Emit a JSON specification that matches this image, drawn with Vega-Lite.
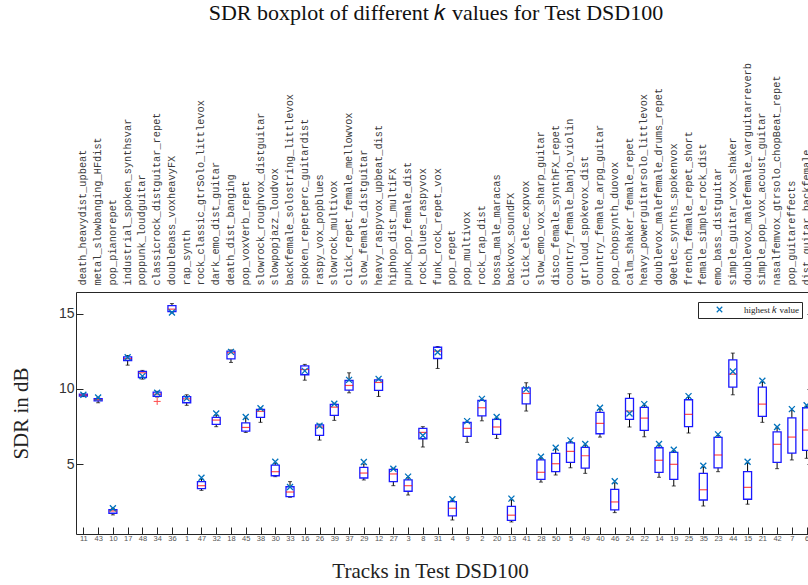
{
  "$schema": "https://vega.github.io/schema/vega-lite/v6.json",
  "width": 738,
  "height": 242,
  "autosize": {"type": "none"},
  "padding": {"left": 76, "top": 292, "right": 0, "bottom": 51},
  "background": "white",
  "title": {"text": "SDR boxplot of different 𝑘 values for Test DSD100", "font": "Liberation Serif", "fontSize": 22, "fontWeight": "normal", "color": "#111111", "anchor": "middle", "baseline": "alphabetic", "dx": -9, "offset": 21},
  "config": {"view": {"stroke": "#262626", "strokeWidth": 1}, "axis": {"grid": false}},
  "datasets": {
    "boxes": [
      {"track":"11","name":"death_heavydist_upbeat","lo":9.48,"q1":9.52,"med":9.58,"q3":9.64,"hi":9.68,"k":9.6},
      {"track":"43","name":"metal_slowbanging_HFdist","lo":9.07,"q1":9.2,"med":9.28,"q3":9.35,"hi":9.4,"k":9.42},
      {"track":"10","name":"pop_pianorepet","lo":1.62,"q1":1.73,"med":1.88,"q3":1.97,"hi":2.05,"k":2.06},
      {"track":"17","name":"industrial_spoken_synthsvar","lo":11.57,"q1":11.88,"med":12.01,"q3":12.12,"hi":12.21,"k":12.1},
      {"track":"48","name":"poppunk_loudguitar","lo":10.64,"q1":10.75,"med":11.06,"q3":11.15,"hi":11.22,"k":10.84},
      {"track":"34","name":"classicrock_distguitar_repet","lo":9.45,"q1":9.5,"med":9.64,"q3":9.78,"hi":9.83,"k":9.73,"out":9.16},
      {"track":"36","name":"doublebass_voxheavyFX","lo":15.05,"q1":15.12,"med":15.29,"q3":15.52,"hi":15.66,"k":15.07},
      {"track":"1","name":"rap_synth","lo":8.9,"q1":9.07,"med":9.33,"q3":9.48,"hi":9.6,"k":9.36},
      {"track":"47","name":"rock_classic_gtrSolo_littlevox","lo":3.25,"q1":3.36,"med":3.56,"q3":3.83,"hi":4.0,"k":4.09},
      {"track":"32","name":"dark_emo_dist_guitar","lo":7.48,"q1":7.63,"med":7.92,"q3":8.1,"hi":8.25,"k":8.36},
      {"track":"18","name":"death_dist_banging","lo":11.75,"q1":11.99,"med":12.39,"q3":12.5,"hi":12.58,"k":12.45},
      {"track":"45","name":"pop_voxVerb_repet","lo":7.1,"q1":7.19,"med":7.43,"q3":7.74,"hi":8.05,"k":8.12},
      {"track":"38","name":"slowrock_roughvox_distguitar","lo":7.77,"q1":8.1,"med":8.5,"q3":8.63,"hi":8.7,"k":8.7},
      {"track":"30","name":"slowpopjazz_loudvox","lo":4.16,"q1":4.22,"med":4.49,"q3":4.93,"hi":5.05,"k":5.15},
      {"track":"33","name":"backfemale_solostring_littlevox","lo":2.79,"q1":2.83,"med":3.14,"q3":3.49,"hi":3.83,"k":3.47},
      {"track":"16","name":"spoken_repetperc_guitardist","lo":10.57,"q1":10.93,"med":11.28,"q3":11.52,"hi":11.62,"k":11.19},
      {"track":"26","name":"raspy_vox_popblues","lo":6.59,"q1":6.9,"med":7.46,"q3":7.6,"hi":7.65,"k":7.54},
      {"track":"39","name":"slowrock_multivox","lo":7.9,"q1":8.23,"med":8.78,"q3":8.96,"hi":9.0,"k":9.0},
      {"track":"37","name":"click_repet_female_mellowvox","lo":9.73,"q1":9.91,"med":10.22,"q3":10.55,"hi":11.06,"k":10.59},
      {"track":"29","name":"slow_female_distguitar","lo":3.94,"q1":4.07,"med":4.4,"q3":4.78,"hi":5.0,"k":5.13},
      {"track":"12","name":"heavy_raspyvox_upbeat_dist","lo":9.49,"q1":9.89,"med":10.42,"q3":10.59,"hi":10.66,"k":10.66},
      {"track":"27","name":"hiphop_dist_multiFX","lo":3.56,"q1":3.83,"med":4.34,"q3":4.65,"hi":4.7,"k":4.69},
      {"track":"3","name":"punk_pop_female_dist","lo":2.94,"q1":3.19,"med":3.56,"q3":3.94,"hi":4.1,"k":4.16},
      {"track":"8","name":"rock_blues_raspyvox","lo":6.13,"q1":6.68,"med":7.1,"q3":7.37,"hi":7.48,"k":6.9},
      {"track":"31","name":"funk_rock_repet_vox","lo":11.35,"q1":12.01,"med":12.5,"q3":12.76,"hi":12.81,"k":12.43},
      {"track":"4","name":"pop_repet","lo":1.28,"q1":1.55,"med":2.06,"q3":2.5,"hi":2.6,"k":2.66},
      {"track":"9","name":"pop_multivox","lo":6.44,"q1":6.84,"med":7.37,"q3":7.77,"hi":7.8,"k":7.85},
      {"track":"2","name":"rock_rap_dist","lo":7.87,"q1":8.2,"med":8.74,"q3":9.23,"hi":9.3,"k":9.33},
      {"track":"20","name":"bossa_male_maracas","lo":6.7,"q1":6.97,"med":7.46,"q3":7.97,"hi":8.05,"k":8.12},
      {"track":"13","name":"backvox_soundFX","lo":1.15,"q1":1.26,"med":1.6,"q3":2.19,"hi":2.62,"k":2.7},
      {"track":"41","name":"click_elec_expvox","lo":8.52,"q1":9.0,"med":9.69,"q3":10.06,"hi":10.4,"k":9.96},
      {"track":"28","name":"slow_emo_vox_sharp_guitar","lo":3.8,"q1":3.98,"med":4.45,"q3":5.27,"hi":5.4,"k":5.48},
      {"track":"50","name":"disco_female_synthFX_repet","lo":4.27,"q1":4.49,"med":5.02,"q3":5.71,"hi":6.0,"k":6.08},
      {"track":"5","name":"country_female_banjo_violin","lo":4.75,"q1":5.11,"med":5.84,"q3":6.41,"hi":6.5,"k":6.57},
      {"track":"49","name":"gtrloud_spokevox_dist","lo":4.38,"q1":4.73,"med":5.55,"q3":6.11,"hi":6.25,"k":6.33},
      {"track":"40","name":"country_female_arpg_guitar","lo":6.79,"q1":7.01,"med":7.7,"q3":8.43,"hi":8.65,"k":8.74},
      {"track":"46","name":"pop_chopsynth_duovox","lo":1.77,"q1":1.95,"med":2.48,"q3":3.32,"hi":3.75,"k":3.85},
      {"track":"24","name":"calm_shaker_female_repet","lo":7.46,"q1":7.97,"med":8.52,"q3":9.36,"hi":9.67,"k":8.36},
      {"track":"22","name":"heavy_powerguitarsolo_littlevox","lo":6.81,"q1":7.24,"med":8.05,"q3":8.76,"hi":8.9,"k":8.98},
      {"track":"14","name":"doublevox_malefemale_drums_repet","lo":4.12,"q1":4.45,"med":5.25,"q3":6.08,"hi":6.25,"k":6.33},
      {"track":"19","name":"90elec_synths_spokenvox","lo":3.54,"q1":3.98,"med":4.98,"q3":5.78,"hi":5.88,"k":5.95},
      {"track":"25","name":"french_female_repet_short","lo":7.06,"q1":7.48,"med":8.3,"q3":9.27,"hi":9.42,"k":9.51},
      {"track":"35","name":"female_simple_rock_dist","lo":2.21,"q1":2.61,"med":3.29,"q3":4.38,"hi":4.8,"k":4.89},
      {"track":"23","name":"emo_bass_distguitar","lo":4.49,"q1":4.75,"med":5.6,"q3":6.77,"hi":6.9,"k":6.97},
      {"track":"44","name":"simple_guitar_vox_shaker","lo":9.6,"q1":10.11,"med":10.97,"q3":11.92,"hi":12.37,"k":11.15},
      {"track":"15","name":"doublevox_malefemale_varguitarreverb","lo":2.33,"q1":2.66,"med":3.45,"q3":4.49,"hi":5.05,"k":5.15},
      {"track":"21","name":"simple_pop_vox_acoust_guitar","lo":7.77,"q1":8.17,"med":8.98,"q3":10.11,"hi":10.45,"k":10.53},
      {"track":"42","name":"nasalfemvox_gtrsolo_chopBeat_repet","lo":4.69,"q1":5.11,"med":6.31,"q3":7.14,"hi":7.4,"k":7.46},
      {"track":"7","name":"pop_guitareffects","lo":5.27,"q1":5.73,"med":6.79,"q3":8.07,"hi":8.55,"k":8.65},
      {"track":"6","name":"dist_guitar_backfemale","lo":5.38,"q1":5.91,"med":7.26,"q3":8.74,"hi":8.85,"k":8.9}
    ]
  },
  "resolve": {"scale": {"x": "independent", "y": "independent"}},
  "layer": [
    {
      "data": {"name": "boxes"},
      "encoding": {
        "x": {"field": "name", "type": "nominal", "sort": null,
              "scale": {"paddingInner": 0, "paddingOuter": 0},
              "axis": {"orient": "top", "title": null, "labelAngle": -90, "labelFont": "Liberation Mono", "labelFontSize": 10.3, "labelColor": "#3a3a3a", "ticks": false, "domain": false, "labelPadding": 7, "labelOverlap": false, "labelBound": false, "labelLimit": 400}}
      },
      "layer": [
        {
          "mark": {"type": "rule", "color": "#000000", "strokeWidth": 1},
          "encoding": {
            "y": {"field": "lo", "type": "quantitative", "scale": {"domain": [0.35, 16.43], "nice": false, "zero": false},
                  "axis": {"orient": "left", "values": [5, 10, 15], "title": "SDR in dB", "titleFont": "Liberation Serif", "titleFontSize": 21, "titleFontWeight": "normal", "titleColor": "#222222", "titleAngle": 270, "titleBaseline": "alphabetic", "titleX": -49, "titleY": 121, "labelFont": "Liberation Sans", "labelFontSize": 14, "labelColor": "#333333", "tickSize": -7, "tickColor": "#262626", "domain": false, "labelPadding": 9}},
            "y2": {"field": "hi"}
          }
        },
        {
          "mark": {"type": "tick", "color": "#000000", "size": 4, "thickness": 1},
          "encoding": {"y": {"field": "lo", "type": "quantitative", "scale": {"domain": [0.35, 16.43], "nice": false, "zero": false}}}
        },
        {
          "mark": {"type": "tick", "color": "#000000", "size": 4, "thickness": 1},
          "encoding": {"y": {"field": "hi", "type": "quantitative", "scale": {"domain": [0.35, 16.43], "nice": false, "zero": false}}}
        },
        {
          "mark": {"type": "bar", "width": 8, "fill": "#ffffff", "stroke": "#1a1aff", "strokeWidth": 1.3},
          "encoding": {
            "y": {"field": "q1", "type": "quantitative", "scale": {"domain": [0.35, 16.43], "nice": false, "zero": false}},
            "y2": {"field": "q3"}
          }
        },
        {
          "mark": {"type": "tick", "color": "#ff0000", "size": 8, "thickness": 1.2},
          "encoding": {"y": {"field": "med", "type": "quantitative", "scale": {"domain": [0.35, 16.43], "nice": false, "zero": false}}}
        },
        {
          "mark": {"type": "point", "shape": "M-1,0L1,0M0,-1L0,1", "filled": false, "size": 49, "color": "#ff0000", "strokeWidth": 1},
          "encoding": {"y": {"field": "out", "type": "quantitative", "scale": {"domain": [0.35, 16.43], "nice": false, "zero": false}}}
        },
        {
          "mark": {"type": "point", "shape": "M-1,-1L1,1M-1,1L1,-1", "filled": false, "size": 36, "strokeWidth": 1.3, "opacity": 1},
          "encoding": {
            "y": {"field": "k", "type": "quantitative", "scale": {"domain": [0.35, 16.43], "nice": false, "zero": false}},
            "stroke": {"datum": "highest k value", "type": "nominal", "scale": {"range": ["#0072BD"]},
                       "legend": {"title": null, "orient": "none", "legendX": 622, "legendY": 10, "strokeColor": "#262626", "fillColor": "#ffffff", "padding": 3, "symbolType": "M-1,-1L1,1M-1,1L1,-1", "symbolSize": 30, "symbolStrokeWidth": 1.2, "symbolFillColor": "transparent", "symbolOffset": 14, "labelOffset": 20, "labelFont": "Liberation Serif", "labelFontSize": 9, "labelColor": "#222222", "labelExpr": "'highest 𝑘 value'"}}
          }
        }
      ]
    },
    {
      "data": {"name": "boxes"},
      "mark": {"type": "point", "opacity": 0},
      "encoding": {
        "x": {"field": "track", "type": "nominal", "sort": null,
              "scale": {"paddingInner": 0, "paddingOuter": 0},
              "axis": {"orient": "bottom", "title": "Tracks in Test DSD100", "titleFont": "Liberation Serif", "titleFontSize": 21, "titleFontWeight": "normal", "titleColor": "#222222", "titleX": 354, "titleY": 43, "titleBaseline": "alphabetic", "titleAnchor": null, "labelAngle": 0, "labelFont": "Liberation Sans", "labelFontSize": 7.5, "labelColor": "#555555", "tickSize": -7, "tickColor": "#262626", "domain": false, "labelPadding": 7}},
        "y": {"field": "med", "type": "quantitative", "scale": {"domain": [0.35, 16.43], "nice": false, "zero": false},
              "axis": {"orient": "right", "values": [5, 10, 15], "title": null, "labels": false, "tickSize": -7, "tickColor": "#262626", "domain": false}}
      }
    }
  ]
}
